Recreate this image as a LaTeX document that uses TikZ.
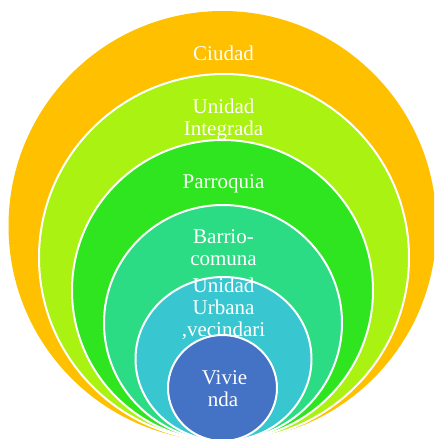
\documentclass[tikz,border=0pt]{standalone}
\usepackage{fontspec}
\setmainfont{Liberation Serif}
\usetikzlibrary{shapes.geometric}
\definecolor{cCiudad}{HTML}{FFC000}
\definecolor{cIntegrada}{HTML}{A9F211}
\definecolor{cParroquia}{HTML}{2EE520}
\definecolor{cBarrio}{HTML}{2BDC85}
\definecolor{cUrbana}{HTML}{38C6D0}
\definecolor{cVivienda}{HTML}{4472C4}
\begin{document}
\begin{tikzpicture}[x=1pt,y=-1pt,
  ring/.style={ellipse, draw=white, line width=2pt, inner sep=0pt, outer sep=0pt},
  lbl/.style={text=white, font=\fontsize{21}{22}\selectfont, anchor=base, inner sep=0pt}]
\useasboundingbox (0,0) rectangle (434,439);
\clip (0,0) rectangle (434,439);
\node[ring, fill=cCiudad, draw=none, minimum width=428pt, minimum height=430pt] (ciudad) at (222.5,226) {};
\node[ring, fill=cIntegrada, minimum width=370pt, minimum height=367pt] (integrada) at (224,257.5) {};
\node[ring, fill=cParroquia, minimum width=301pt, minimum height=301pt] (parroquia) at (222.5,290.5) {};
\node[ring, fill=cBarrio, minimum width=238pt, minimum height=236pt] (barrio) at (223,323) {};
\node[ring, fill=cUrbana, minimum width=176pt, minimum height=164pt] (urbana) at (223.5,359) {};
\node[ring, fill=cVivienda, minimum width=109pt, minimum height=106pt] (vivienda) at (222.5,388) {};
% labels
\node[lbl] (tCiudad) at (223.5,60) {Ciudad};
\node[lbl] (tIntA) at (223.5,113) {Unidad};
\node[lbl] (tIntB) at (223.5,135) {Integrada};
\node[lbl] (tParr) at (223.5,188) {Parroquia};
\node[lbl] (tBarA) at (223.5,243) {Barrio-};
\node[lbl] (tBarB) at (223.5,265) {comuna};
\node[lbl] (tUrbA) at (223.5,292) {Unidad};
\node[lbl] (tUrbB) at (223.5,314) {Urbana};
\node[lbl] (tUrbC) at (223.5,336) {,vecindari};
\node[lbl] (tVivA) at (224.5,384) {Vivie};
\node[lbl] (tVivB) at (223,406) {nda};
\end{tikzpicture}
\end{document}
